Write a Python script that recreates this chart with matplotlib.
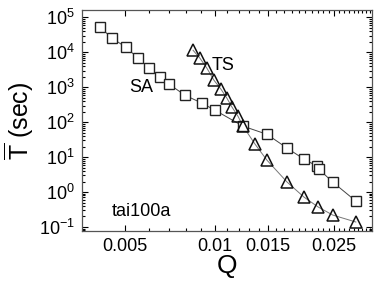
import matplotlib
matplotlib.use('Agg')
import matplotlib.pyplot as plt
from matplotlib.ticker import FixedLocator, FixedFormatter, LogLocator, NullFormatter

# SA (squares)
sa_q = [0.00414, 0.00454, 0.00505, 0.00554, 0.00603, 0.00656, 0.00703,
        0.00794, 0.00905, 0.0100, 0.0124, 0.0149, 0.0174, 0.0198,
        0.0219, 0.0222, 0.0247, 0.0295]
sa_t = [51800, 25100, 13900, 6740, 3490, 1930, 1220,
        591, 349, 220, 77, 45, 18.1, 8.77,
        5.53, 4.54, 1.93, 0.553]

# TS (triangles)
ts_q = [0.00845, 0.00891, 0.00940, 0.00992, 0.01047, 0.01096, 0.0114,
        0.01193, 0.0124, 0.0136, 0.0149, 0.0174, 0.0198, 0.0221,
        0.0247, 0.0295]
ts_t = [11400, 6740, 3490, 1585, 877, 485, 268,
        148, 77, 23.5, 8.2, 1.93, 0.72, 0.373,
        0.22, 0.139]

x_ticks = [0.005, 0.01, 0.015, 0.025]
x_tick_labels = ['0.005', '0.01', '0.015', '0.025']

plt.rcParams['font.family'] = ['Liberation Sans', 'DejaVu Sans']
plt.rcParams['mathtext.fontset'] = 'custom'
plt.rcParams['mathtext.rm'] = 'Liberation Sans'
plt.rcParams['mathtext.it'] = 'Liberation Sans'

fig = plt.figure(figsize=(3.82, 2.86), dpi=100)
ax = fig.add_axes([82 / 382, 1 - 231 / 286, 290 / 382, 221 / 286])

ax.plot(sa_q, sa_t, '-', color='#444444', lw=0.7, zorder=1)
ax.plot(sa_q, sa_t, 's', mfc='white', mec='#222222', mew=1.0, ms=7.5, zorder=2)
ax.plot(ts_q, ts_t, '-', color='#777777', lw=0.7, zorder=1)
ax.plot(ts_q, ts_t, '^', mfc='none', mec='#111111', mew=1.1, ms=8, zorder=3)

ax.set_xscale('log')
ax.set_yscale('log')
ax.set_xlim(0.0036, 0.0334)
ax.set_ylim(10 ** -1.114, 10 ** 5.21)

ax.xaxis.set_major_locator(FixedLocator(x_ticks))
ax.xaxis.set_major_formatter(FixedFormatter(x_tick_labels))
minor = [i / 1000 for i in range(6, 34) if i not in (10, 15, 25)]
ax.xaxis.set_minor_locator(FixedLocator(minor))
ax.xaxis.set_minor_formatter(NullFormatter())
ax.yaxis.set_major_locator(LogLocator(base=10, numticks=10))
ax.yaxis.set_minor_locator(LogLocator(base=10, subs=range(2, 10), numticks=20))
ax.yaxis.set_minor_formatter(NullFormatter())

ax.tick_params(which='both', direction='in', top=True, right=True,
               labelsize=13, width=0.8)
ax.tick_params(which='major', length=4, pad=5)
ax.tick_params(which='minor', length=2.5)
for s in ax.spines.values():
    s.set_linewidth(0.9)
    s.set_color('#555555')

ax.set_xlabel('Q', fontsize=19, labelpad=-1)
ax.set_ylabel(r'$\overline{\mathrm{T}}$ (sec)', fontsize=18, labelpad=2)

ax.text(0.00567, 10 ** 2.99, 'SA', fontsize=13, ha='center', va='center')
ax.text(0.01063, 10 ** 3.61, 'TS', fontsize=13, ha='center', va='center')
ax.text(0.00567, 10 ** -0.56, 'tai100a', fontsize=13, ha='center', va='center')

fig.savefig('out.png', dpi=100)
